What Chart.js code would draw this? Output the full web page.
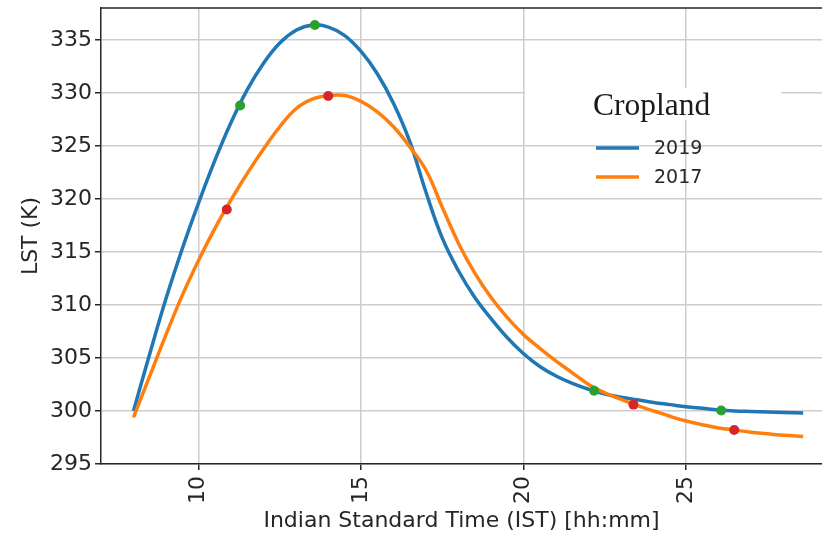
<!DOCTYPE html>
<html>
<head>
<meta charset="utf-8">
<script src="https://cdn.jsdelivr.net/npm/chart.js@4.4.1/dist/chart.umd.min.js"></script>
<style>
  html, body { margin: 0; padding: 0; background: #fff; }
</style>
</head>
<body>
<canvas id="lstChart" width="822" height="538"></canvas>
<script>
// Diurnal land surface temperature curves (hour of day vs LST in kelvin)
const hours = [8, 8.5, 9, 9.5, 10, 10.5, 11, 11.5, 12, 12.5, 13, 13.5, 14, 14.5, 15, 15.5,
  16, 16.5, 17, 17.5, 18, 18.5, 19, 19.5, 20, 20.5, 21, 21.5, 22, 22.5, 23, 23.5,
  24, 24.5, 25, 25.5, 26, 26.5, 27, 27.5, 28, 28.6];
const lst2019 = [300.0, 305.4, 310.6, 315.3, 319.6, 323.6, 327.2, 330.3, 332.8, 334.7, 335.9, 336.4,
  336.2, 335.4, 333.9, 331.8, 329.0, 325.4, 320.6, 316.3, 313.2, 310.7, 308.7, 306.9, 305.4, 304.2,
  303.3, 302.6, 302.05, 301.6, 301.3, 301.05, 300.8, 300.6, 300.4, 300.25, 300.1, 300.0, 299.95,
  299.9, 299.85, 299.8];
const lst2017 = [299.4, 303.3, 307.2, 310.9, 314.2, 317.2, 319.9, 322.4, 324.7, 326.8, 328.5, 329.4,
  329.75, 329.75, 329.2, 328.2, 326.8, 324.9, 322.7, 319.2, 315.8, 313.0, 310.7, 308.8, 307.2, 305.9,
  304.7, 303.6, 302.5, 301.7, 301.1, 300.5, 300.0, 299.5, 299.05, 298.7, 298.4, 298.2, 298.0,
  297.85, 297.7, 297.6];

// highlighted overpass points on each curve
const dots2019Hours = [11.28, 13.58, 22.17, 26.08];
const dots2019Lst = [328.8, 336.4, 301.9, 300.05];
const dots2017Hours = [10.87, 13.99, 23.38, 26.48];
const dots2017Lst = [319.0, 329.7, 300.6, 298.2];

const xTicks = [10, 15, 20, 25];
const yTicks = [295, 300, 305, 310, 315, 320, 325, 330, 335];

const toPoints = (xs, ys) => xs.map((x, i) => ({ x: x, y: ys[i] }));

const textColor = '#262626';
const gridColor = '#cdcdcd';
const tickFont = { family: 'DejaVu Sans', size: 22 };

// white box with the "Cropland" title plus line swatches for the two years
const legendPlugin = {
  id: 'croplandLegend',
  afterDraw(chart) {
    const ctx = chart.ctx;
    const area = chart.chartArea;
    ctx.save();

    // top spine
    ctx.strokeStyle = textColor;
    ctx.lineWidth = 1.5;
    ctx.beginPath();
    ctx.moveTo(area.left, area.top);
    ctx.lineTo(area.right, area.top);
    ctx.stroke();

    ctx.fillStyle = '#ffffff';
    ctx.fillRect(525, 88, 256, 32);
    ctx.fillStyle = '#1a1a1a';
    ctx.font = '31.5px "Liberation Serif"';
    ctx.textBaseline = 'alphabetic';
    ctx.textAlign = 'left';
    ctx.fillText('Cropland', 593, 115);

    const entries = chart.data.datasets.filter(d => d.inLegend);
    entries.forEach((d, i) => {
      const y = 148 + i * 29;
      ctx.strokeStyle = d.borderColor;
      ctx.lineWidth = 3.5;
      ctx.beginPath();
      ctx.moveTo(596, y);
      ctx.lineTo(639, y);
      ctx.stroke();
      ctx.fillStyle = textColor;
      ctx.font = '19px "DejaVu Sans"';
      ctx.textBaseline = 'middle';
      ctx.fillText(d.label, 654, y + 1);
    });
    ctx.restore();
  }
};

new Chart(document.getElementById('lstChart'), {
  type: 'line',
  data: {
    datasets: [
      {
        label: 'dots2019',
        data: toPoints(dots2019Hours, dots2019Lst),
        showLine: false,
        pointRadius: 5,
        pointBackgroundColor: '#2ca02c',
        pointBorderWidth: 0,
        order: 0
      },
      {
        label: 'dots2017',
        data: toPoints(dots2017Hours, dots2017Lst),
        showLine: false,
        pointRadius: 5,
        pointBackgroundColor: '#d62728',
        pointBorderWidth: 0,
        order: 0
      },
      {
        label: '2019',
        inLegend: true,
        data: toPoints(hours, lst2019),
        borderColor: '#1f77b4',
        borderWidth: 3.5,
        pointRadius: 0,
        tension: 0.4,
        order: 2
      },
      {
        label: '2017',
        inLegend: true,
        data: toPoints(hours, lst2017),
        borderColor: '#ff7f0e',
        borderWidth: 3.5,
        pointRadius: 0,
        tension: 0.4,
        order: 1
      }
    ]
  },
  options: {
    responsive: false,
    animation: false,
    layout: { autoPadding: false, padding: { top: 8, right: 0, bottom: 0, left: 0 } },
    plugins: {
      legend: { display: false },
      tooltip: { enabled: false }
    },
    scales: {
      x: {
        type: 'linear',
        min: 7,
        max: 29.18,
        afterBuildTicks: scale => { scale.ticks = xTicks.map(v => ({ value: v })); },
        afterFit: scale => {
          scale.height = 74;
          scale.paddingLeft = 0;
          scale.paddingRight = 0;
        },
        ticks: {
          minRotation: 90,
          maxRotation: 90,
          color: textColor,
          font: tickFont,
          padding: 6
        },
        grid: {
          color: gridColor,
          lineWidth: 1.5,
          tickColor: textColor,
          tickLength: 6,
          tickWidth: 1.5
        },
        border: { color: textColor, width: 1.5 },
        title: {
          display: true,
          text: 'Indian Standard Time (IST) [hh:mm]',
          color: textColor,
          font: tickFont,
          padding: { top: 0, bottom: 4 }
        }
      },
      y: {
        min: 295,
        max: 338,
        afterBuildTicks: scale => { scale.ticks = yTicks.map(v => ({ value: v })); },
        afterFit: scale => {
          scale.width = 101;
          scale.paddingTop = 0;
          scale.paddingBottom = 0;
        },
        ticks: {
          color: textColor,
          font: tickFont,
          padding: 3
        },
        grid: {
          color: gridColor,
          lineWidth: 1.5,
          tickColor: textColor,
          tickLength: 6,
          tickWidth: 1.5
        },
        border: { color: textColor, width: 1.5 },
        title: {
          display: true,
          text: 'LST (K)',
          color: textColor,
          font: tickFont,
          padding: { top: 18, bottom: 0 }
        }
      }
    }
  },
  plugins: [legendPlugin]
});
</script>
</body>
</html>
